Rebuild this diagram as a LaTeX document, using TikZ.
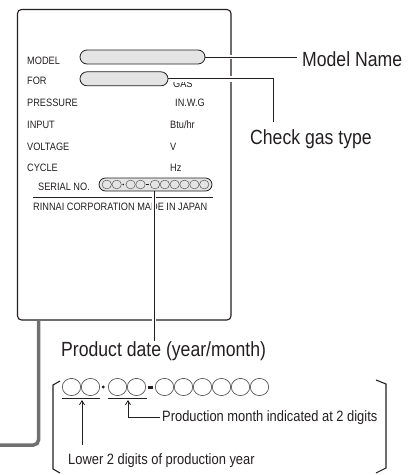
\documentclass[tikz,border=0pt]{standalone}
\usepackage{fontspec}
\setmainfont{Liberation Sans}[FakeStretch=0.86]
\usetikzlibrary{arrows.meta}
\definecolor{pillfill}{HTML}{E4E4E4}
\definecolor{linegray}{HTML}{707070}
\definecolor{ink}{HTML}{231F20}
\begin{document}
\begin{tikzpicture}[x=1pt,y=-1pt,
  small/.style={font=\fontsize{10.7}{12}\selectfont, inner sep=0, anchor=base west, text=ink},
  big/.style={font=\fontsize{20.5}{24}\selectfont, inner sep=0, anchor=base west, text=ink},
  mid/.style={font=\fontsize{15}{18}\selectfont, inner sep=0, anchor=base west, text=ink},
  pill/.style={draw=ink, fill=pillfill, line width=0.8pt, inner sep=0},
  halo/.style={preaction={draw=white, line width=4pt, shorten <=2pt}},
  widehalo/.style={preaction={draw=white, line width=6pt, shorten <=2pt}},
  conn/.style={line width=0.8pt, draw=ink},
  digit/.style={draw=ink!75, line width=0.7pt},
  tip/.style={-{Straight Barb[length=4pt,width=5pt]}},
  bracket/.style={line width=1.1pt, draw=ink},
]
\useasboundingbox (0,0) rectangle (417,475);

% label panel
\node[draw=ink, line width=1.1pt, rounded corners=4pt, inner sep=0,
      minimum width=213.5pt, minimum height=310.5pt] (panel) at (124.25,164.75) {};
\coordinate (gtop) at (38.5,320);
\coordinate (gend) at (0,445);
\draw[line width=3.5pt, linegray, rounded corners=5pt] (gtop) |- (gend);

% left column
\node[small] (tmodel) at (27,64) {MODEL};
\node[small] (tfor) at (27,84) {FOR};
\node[small] (tpress) at (27,106) {PRESSURE};
\node[small] (tinput) at (27,128) {INPUT};
\node[small] (tvolt) at (27,150) {VOLTAGE};
\node[small] (tcycle) at (27,171) {CYCLE};
% right column
\node[small] (tgas) at (173,87.5) {GAS};
\node[small] (tinwg) at (175,106) {IN.W.G};
\node[small] (tbtu) at (170,128) {Btu/hr};
\node[small] (tv) at (170,150) {V};
\node[small] (thz) at (170,171) {Hz};
\node[small] (tserial) at (38,190.5) {SERIAL NO.};
\node[small] (trinnai) at (33,210.5) {RINNAI CORPORATION MADE IN JAPAN};
\draw[line width=0.8pt, ink] (33,197.5) -- (213,197.5);

% pills
\node[pill, rounded corners=7pt, minimum width=125pt, minimum height=14pt] (modelpill) at (142.5,57) {};
\node[pill, rounded corners=7pt, minimum width=88pt, minimum height=14pt] (forpill) at (124,78.8) {};
\node[pill, rounded corners=6.5pt, minimum width=113pt, minimum height=13pt] (serialpill) at (155.5,184.5) {};
\foreach \cx in {106.8,116.7,130.6,140.5,155.0,164.8,174.7,184.5,194.4,204.2}
  \draw[digit, line width=0.5pt] (\cx,184.5) ellipse [x radius=4.7, y radius=4.4];
\fill[ink] (123.3,184.5) circle [radius=0.9];
\draw[ink, line width=1.6pt] (146.3,184.5) -- (149.2,184.5);

% callout texts
\node[big] (mname) at (302,66) {Model Name};
\node[big] (cgt) at (250,144) {Check gas type};
\node[big] (pd) at (61,356.7) {Product date (year/month)};
\node[mid] (pm) at (162,421.7) {Production month indicated at 2 digits};
\node[mid] (ly) at (68,464) {Lower 2 digits of production year};

% connectors
\draw[conn, halo] (modelpill.east) -- ([xshift=-5pt]mname.west |- modelpill.east);
\coordinate (cgtend) at (273,122);
\draw[conn, widehalo] (forpill.east) -| (cgtend);
\coordinate (serialtap) at (154,191);
\draw[conn, halo] (serialtap) -- ([yshift=1pt]serialtap |- pd.north);

% serial number pattern
\foreach \cx in {71.5,90.5,117.5,136.5,164.5,183.5,202.5,221.5,240.5,259.5}
  \draw[digit] (\cx,387) ellipse [x radius=9.2, y radius=8.6];
\fill[ink] (103.3,387) circle [radius=1.6];
\draw[ink, line width=3pt] (147.7,387.5) -- (153.3,387.5);
\draw[ink, line width=1.8pt] (62,398.5) -- (100,398.5);
\draw[ink, line width=1.8pt] (108,398.5) -- (147,398.5);

% arrows
\coordinate (yr) at (82,400);
\coordinate (yrfoot) at (82,445);
\draw[conn, tip] (yrfoot) -- (yr);
\coordinate (mo) at (128,400);
\coordinate (moline) at (160,417);
\draw[conn, tip] (moline) -| (mo);

% brackets
\draw[bracket] (60,381) -- (53,385) -- (53,469) -- (60,473);
\draw[bracket] (376,380) -- (386,384) -- (386,468) -- (376,473);
\end{tikzpicture}
\end{document}
